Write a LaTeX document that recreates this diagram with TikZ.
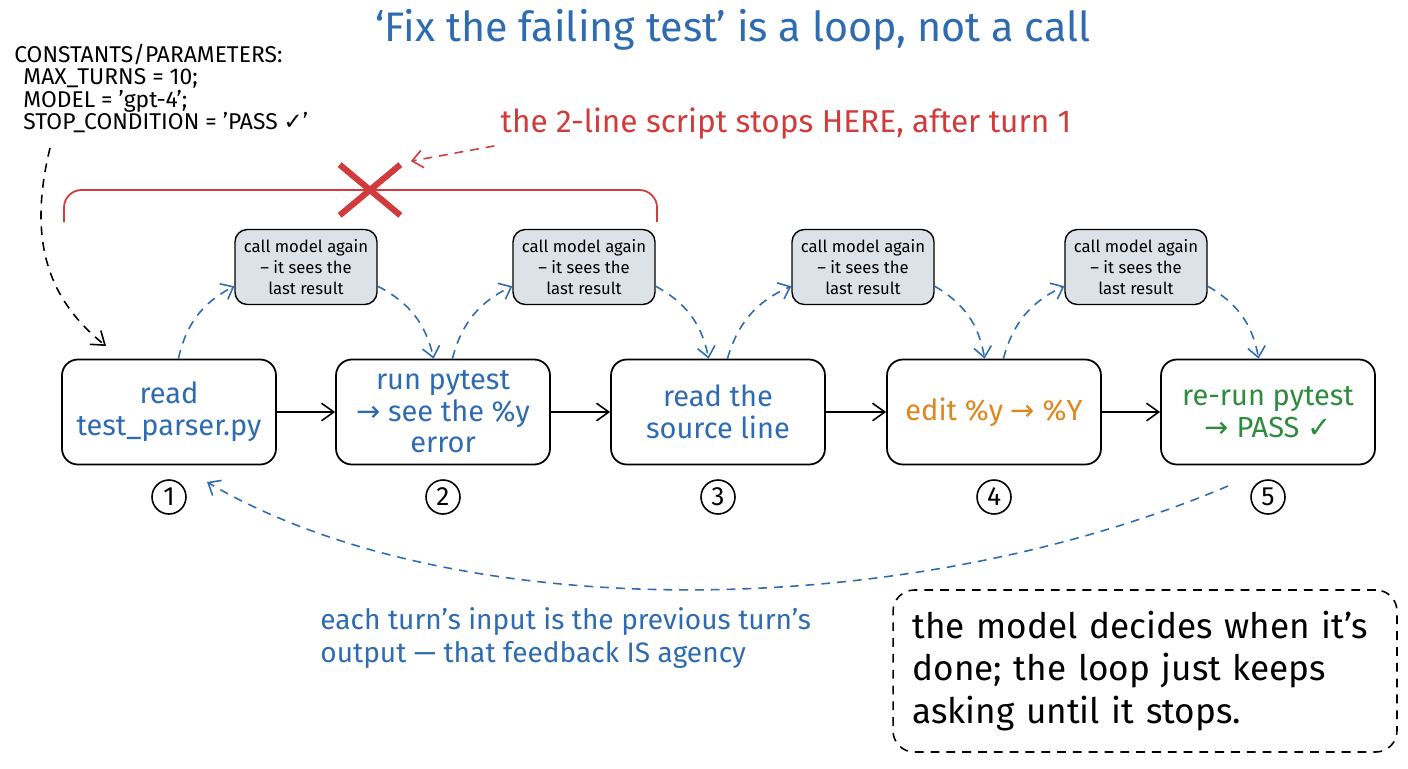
\documentclass[tikz,border=0pt]{standalone}
\usepackage{fontspec}
\setmainfont{Fira Sans}
\newfontfamily\symboles{DejaVu Sans}
\usetikzlibrary{arrows.meta}

\definecolor{bleu}{HTML}{2F6BB0}
\definecolor{rouge}{HTML}{D13B3B}
\definecolor{orange}{HTML}{E0861E}
\definecolor{vert}{HTML}{2E8B3E}
\definecolor{gris}{HTML}{DDE1E8}

\newcommand{\fl}{{\symboles →}}
\newcommand{\coche}{{\symboles ✓}}

\begin{document}
\begin{tikzpicture}[x=0.02cm,y=-0.02cm]
			\tikzstyle{boite}=[draw,line width=1pt,rounded corners=9pt,minimum width=4.28cm,minimum height=2.1cm,align=center,font=\fontsize{16.5}{18}\selectfont]
			\tikzstyle{bulle}=[draw,fill=gris,line width=0.8pt,rounded corners=7pt,minimum width=2.84cm,minimum height=1.5cm,inner sep=1pt,align=center,font=\fontsize{9.5}{12}\selectfont]
			\tikzstyle{numero}=[draw,circle,line width=0.9pt,minimum size=0.68cm,inner sep=0pt,font=\fontsize{15}{15}\selectfont]
			\tikzstyle{fleche}=[->,>={Straight Barb[length=7pt,width=10pt]},line width=0.9pt]
			\tikzstyle{retour}=[->,>={Straight Barb[length=6pt,width=10pt]},dash pattern=on 5pt off 4pt,bleu,line width=0.9pt]
			\tikzstyle{rappel}=[->,>={Straight Barb[length=6pt,width=10pt]},dash pattern=on 5pt off 4pt,rouge,line width=0.9pt]
			
			\def\NiveauTitre{30}
			\def\NiveauBulles{267}
			\def\NiveauBoites{412}
			\def\NiveauNumeros{497}
			
			\useasboundingbox (0,0) rectangle (1408,768);
			
			% titre et constantes
			\node[bleu,font=\fontsize{23.5}{26}\selectfont] (titre) at (733,\NiveauTitre) {`Fix the failing test' is a loop, not a call};
			\node[anchor=north west,align=left,inner sep=0pt,font=\fontsize{13}{12.6}\selectfont] (const) at (14,44) {CONSTANTS/PARAMETERS:\\
				\hspace{0.4em}MAX\_TURNS = 10;\\
				\hspace{0.4em}MODEL = 'gpt-4';\\
				\hspace{0.4em}STOP\_CONDITION = 'PASS \coche'};
			
			% les cinq tours
			\node[boite,text=bleu] (B1) at (169,\NiveauBoites) {read\\test\_parser.py};
			\node[boite,text=bleu] (B2) at (443,\NiveauBoites) {run pytest\\\fl{} see the \%y\\error};
			\node[boite,text=bleu] (B3) at (718,\NiveauBoites) {read the\\source line};
			\node[boite,text=orange] (B4) at (994,\NiveauBoites) {edit \%y \fl{} \%Y};
			\node[boite,text=vert] (B5) at (1268,\NiveauBoites) {re-run pytest\\\fl{} PASS \coche};
			
			\node[numero] (N1) at (169,\NiveauNumeros) {1};
			\node[numero] (N2) at (443,\NiveauNumeros) {2};
			\node[numero] (N3) at (718,\NiveauNumeros) {3};
			\node[numero] (N4) at (994,\NiveauNumeros) {4};
			\node[numero] (N5) at (1268,\NiveauNumeros) {5};
			
			\node[bulle] (C1) at (306,\NiveauBulles) {call model again\\-- it sees the\\last result};
			\node[bulle] (C2) at (584,\NiveauBulles) {call model again\\-- it sees the\\last result};
			\node[bulle] (C3) at (863,\NiveauBulles) {call model again\\-- it sees the\\last result};
			\node[bulle] (C4) at (1136,\NiveauBulles) {call model again\\-- it sees the\\last result};
			
			\draw[fleche] (B1)--(B2);
			\draw[fleche] (B2)--(B3);
			\draw[fleche] (B3)--(B4);
			\draw[fleche] (B4)--(B5);
			
			\draw[retour] (B1.80) to[bend left=25] (C1.195);
			\draw[retour] (C1.-15) to[bend left=25] (B2.100);
			\draw[retour] (B2.80) to[bend left=25] (C2.195);
			\draw[retour] (C2.-15) to[bend left=25] (B3.100);
			\draw[retour] (B3.80) to[bend left=25] (C3.195);
			\draw[retour] (C3.-15) to[bend left=25] (B4.100);
			\draw[retour] (B4.80) to[bend left=25] (C4.195);
			\draw[retour] (C4.-15) to[bend left=25] (B5.100);
			
			% boucle de retour
			\coordinate (depart) at (1228,486);
			\coordinate (arrivee) at (207,482);
			\draw[retour] (depart) .. controls (900,625) and (450,625) .. (arrivee);
			\node[anchor=north west,align=left,inner sep=0pt,text=bleu,font=\fontsize{16}{19}\selectfont] (boucle) at (320,607) {each turn's input is the previous turn's\\output --- that feedback IS agency};
			
			% fleche des constantes
			\coordinate (sortie) at (50,148);
			\coordinate (entree) at (106,346);
			\draw[fleche,dash pattern=on 5pt off 4pt] (sortie) .. controls (25,250) and (55,305) .. (entree);
			
			% le script en deux lignes s'arrete ici
			\draw[rouge,line width=1pt,rounded corners=10pt] (64,222) |- (657,190) -- (657,222);
			\node[minimum width=1.2cm,minimum height=1.0cm,inner sep=0pt] (X) at (370,190) {};
			\draw[rouge,line width=3.5pt] (X.north west)--(X.south east);
			\draw[rouge,line width=3.5pt] (X.north east)--(X.south west);
			\node[rouge,font=\fontsize{18}{20}\selectfont] (note) at (786,124) {the 2-line script stops HERE, after turn 1};
			\draw[rappel] (note.south west) -- ([xshift=6pt,yshift=2pt]X.north east);
			
			% conclusion
			\node[draw,dash pattern=on 5pt off 4pt,line width=0.9pt,rounded corners=12pt,minimum width=10.08cm,minimum height=3.24cm,text width=9.3cm,align=left,font=\fontsize{20}{24.4}\selectfont] (fin) at (1145,671) {the model decides when it's\\done; the loop just keeps\\asking until it stops.};
		\end{tikzpicture}
\end{document}
